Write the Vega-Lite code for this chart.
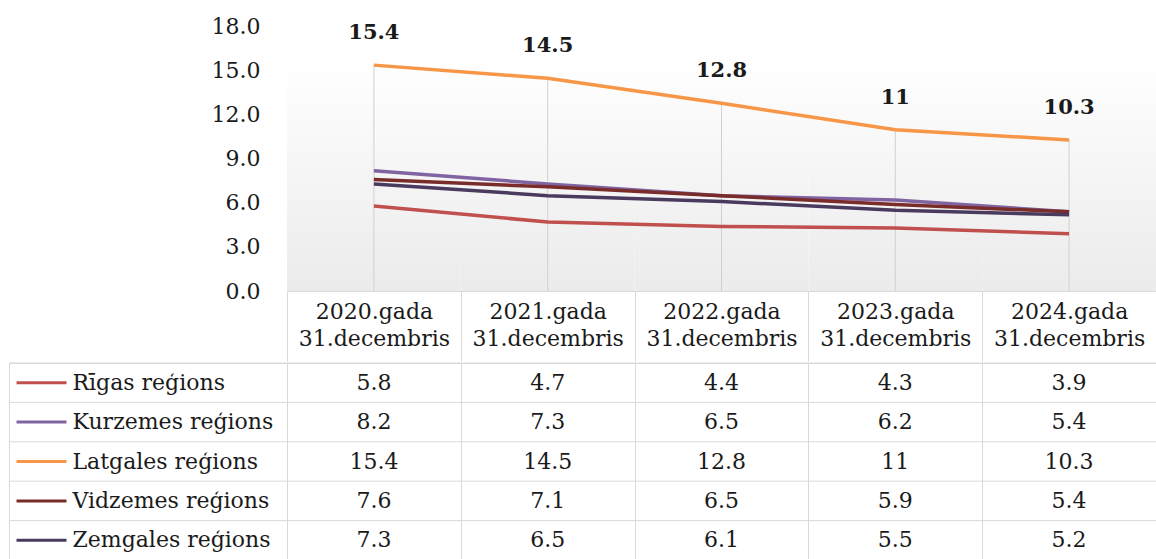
{
  "$schema": "https://vega.github.io/schema/vega-lite/v6.json",
  "padding": {"left": 8, "top": 0, "right": 0, "bottom": 0},
  "background": "white",
  "config": {"view": {"stroke": null}, "font": "DejaVu Serif"},
  "datasets": {
    "rows": [
      {"region": "Rīgas reģions", "period": "2020.gada 31.decembris", "value": 5.8},
      {"region": "Rīgas reģions", "period": "2021.gada 31.decembris", "value": 4.7},
      {"region": "Rīgas reģions", "period": "2022.gada 31.decembris", "value": 4.4},
      {"region": "Rīgas reģions", "period": "2023.gada 31.decembris", "value": 4.3},
      {"region": "Rīgas reģions", "period": "2024.gada 31.decembris", "value": 3.9},
      {"region": "Kurzemes reģions", "period": "2020.gada 31.decembris", "value": 8.2},
      {"region": "Kurzemes reģions", "period": "2021.gada 31.decembris", "value": 7.3},
      {"region": "Kurzemes reģions", "period": "2022.gada 31.decembris", "value": 6.5},
      {"region": "Kurzemes reģions", "period": "2023.gada 31.decembris", "value": 6.2},
      {"region": "Kurzemes reģions", "period": "2024.gada 31.decembris", "value": 5.4},
      {"region": "Latgales reģions", "period": "2020.gada 31.decembris", "value": 15.4},
      {"region": "Latgales reģions", "period": "2021.gada 31.decembris", "value": 14.5},
      {"region": "Latgales reģions", "period": "2022.gada 31.decembris", "value": 12.8},
      {"region": "Latgales reģions", "period": "2023.gada 31.decembris", "value": 11},
      {"region": "Latgales reģions", "period": "2024.gada 31.decembris", "value": 10.3},
      {"region": "Vidzemes reģions", "period": "2020.gada 31.decembris", "value": 7.6},
      {"region": "Vidzemes reģions", "period": "2021.gada 31.decembris", "value": 7.1},
      {"region": "Vidzemes reģions", "period": "2022.gada 31.decembris", "value": 6.5},
      {"region": "Vidzemes reģions", "period": "2023.gada 31.decembris", "value": 5.9},
      {"region": "Vidzemes reģions", "period": "2024.gada 31.decembris", "value": 5.4},
      {"region": "Zemgales reģions", "period": "2020.gada 31.decembris", "value": 7.3},
      {"region": "Zemgales reģions", "period": "2021.gada 31.decembris", "value": 6.5},
      {"region": "Zemgales reģions", "period": "2022.gada 31.decembris", "value": 6.1},
      {"region": "Zemgales reģions", "period": "2023.gada 31.decembris", "value": 5.5},
      {"region": "Zemgales reģions", "period": "2024.gada 31.decembris", "value": 5.2}
    ]
  },
  "spacing": 0,
  "vconcat": [
    {
      "width": 1147,
      "height": 291,
      "view": {"fill": "#ffffff", "stroke": null},
      "data": {"name": "rows"},
      "encoding": {
        "x": {
          "field": "period", "type": "nominal", "sort": null,
          "scale": {"type": "band", "range": [278, 1147], "paddingInner": 0, "paddingOuter": 0},
          "axis": {
            "title": null, "orient": "bottom", "grid": false,
            "domain": true, "domainColor": "#d9d9d9",
            "ticks": true, "tickBand": "extent", "tickSize": 70, "tickColor": "#d9d9d9",
            "labelExpr": "split(datum.label, ' ')",
            "labelFont": "DejaVu Serif", "labelFontSize": 22, "labelColor": "#1a1a1a",
            "labelLineHeight": 27, "labelPadding": -60, "labelAngle": 0,
            "labelBaseline": "top", "labelLimit": 400
          }
        },
        "y": {
          "field": "value", "type": "quantitative",
          "scale": {"domain": [0, 19.84], "nice": false, "zero": false},
          "axis": {
            "title": null, "orient": "left", "offset": -253,
            "values": [0, 3, 6, 9, 12, 15, 18], "format": ".1f",
            "domain": false, "ticks": false, "grid": false, "labelPadding": 2,
            "labelFont": "DejaVu Serif", "labelFontSize": 22, "labelColor": "#1a1a1a"
          }
        }
      },
      "layer": [
        {
          "transform": [{"filter": "datum.region === 'Latgales reģions'"}],
          "mark": {
            "type": "rect",
            "fill": {"gradient": "linear", "x1": 0, "y1": 0, "x2": 0, "y2": 1,
              "stops": [{"offset": 0, "color": "#ffffff"}, {"offset": 1, "color": "#ebebeb"}]}
          },
          "encoding": {"y": {"datum": 0, "type": "quantitative"}, "y2": {"datum": 15.9}}
        },
        {
          "transform": [{"filter": "datum.region === 'Latgales reģions'"}],
          "mark": {"type": "rule", "color": "#d0d0d0", "strokeWidth": 1},
          "encoding": {"y": {"datum": 0, "type": "quantitative"}, "y2": {"field": "value"}}
        },
        {
          "mark": {"type": "line", "strokeWidth": 3.5},
          "encoding": {
            "color": {
              "field": "region", "type": "nominal", "legend": null,
              "scale": {
                "domain": ["Rīgas reģions", "Kurzemes reģions", "Latgales reģions", "Vidzemes reģions", "Zemgales reģions"],
                "range": ["#C0504D", "#8064A2", "#F79646", "#7A2C2A", "#493A5E"]
              }
            }
          }
        },
        {
          "transform": [{"filter": "datum.region === 'Latgales reģions'"}],
          "mark": {"type": "text", "dy": -32, "fontWeight": "bold", "fontSize": 21, "font": "DejaVu Serif", "color": "#1a1a1a"},
          "encoding": {"text": {"field": "value", "type": "nominal"}}
        }
      ]
    },
    {
      "width": 1147,
      "height": 197,
      "view": {"fill": "#ffffff", "stroke": "#d9d9d9"},
      "data": {"name": "rows"},
      "layer": [
        {
          "transform": [{"filter": "datum.period === '2020.gada 31.decembris'"}],
          "mark": {"type": "rule", "color": "#d9d9d9", "strokeWidth": 1},
          "encoding": {
            "y": {"field": "region", "type": "nominal", "sort": null, "bandPosition": 0}
          }
        },
        {
          "mark": {"type": "text", "font": "DejaVu Serif", "fontSize": 22, "color": "#1a1a1a"},
          "encoding": {
            "x": {
              "field": "period", "type": "nominal", "sort": null,
              "scale": {"type": "band", "range": [278, 1147], "paddingInner": 0, "paddingOuter": 0},
              "axis": {
                "title": null, "orient": "top", "labels": false, "ticks": false, "domain": false,
                "grid": true, "gridColor": "#d9d9d9", "tickBand": "extent"
              }
            },
            "text": {"field": "value", "type": "nominal"},
            "y": {
              "field": "region", "type": "nominal", "sort": null,
              "scale": {"paddingInner": 0, "paddingOuter": 0},
              "axis": {
                "title": null, "orient": "left", "offset": -57,
                "domain": false, "grid": false,
                "ticks": true, "tickSize": 50, "tickWidth": 3, "tickRound": false,
                "tickColor": {
                  "condition": [
                    {"test": "datum.value === 'Rīgas reģions'", "value": "#C0504D"},
                    {"test": "datum.value === 'Kurzemes reģions'", "value": "#8064A2"},
                    {"test": "datum.value === 'Latgales reģions'", "value": "#F79646"},
                    {"test": "datum.value === 'Vidzemes reģions'", "value": "#7A2C2A"}
                  ],
                  "value": "#493A5E"
                },
                "labelAlign": "left", "labelBaseline": "middle", "labelPadding": -56,
                "labelFont": "DejaVu Serif", "labelFontSize": 22, "labelColor": "#1a1a1a",
                "labelLimit": 400
              }
            }
          }
        }
      ]
    }
  ]
}
